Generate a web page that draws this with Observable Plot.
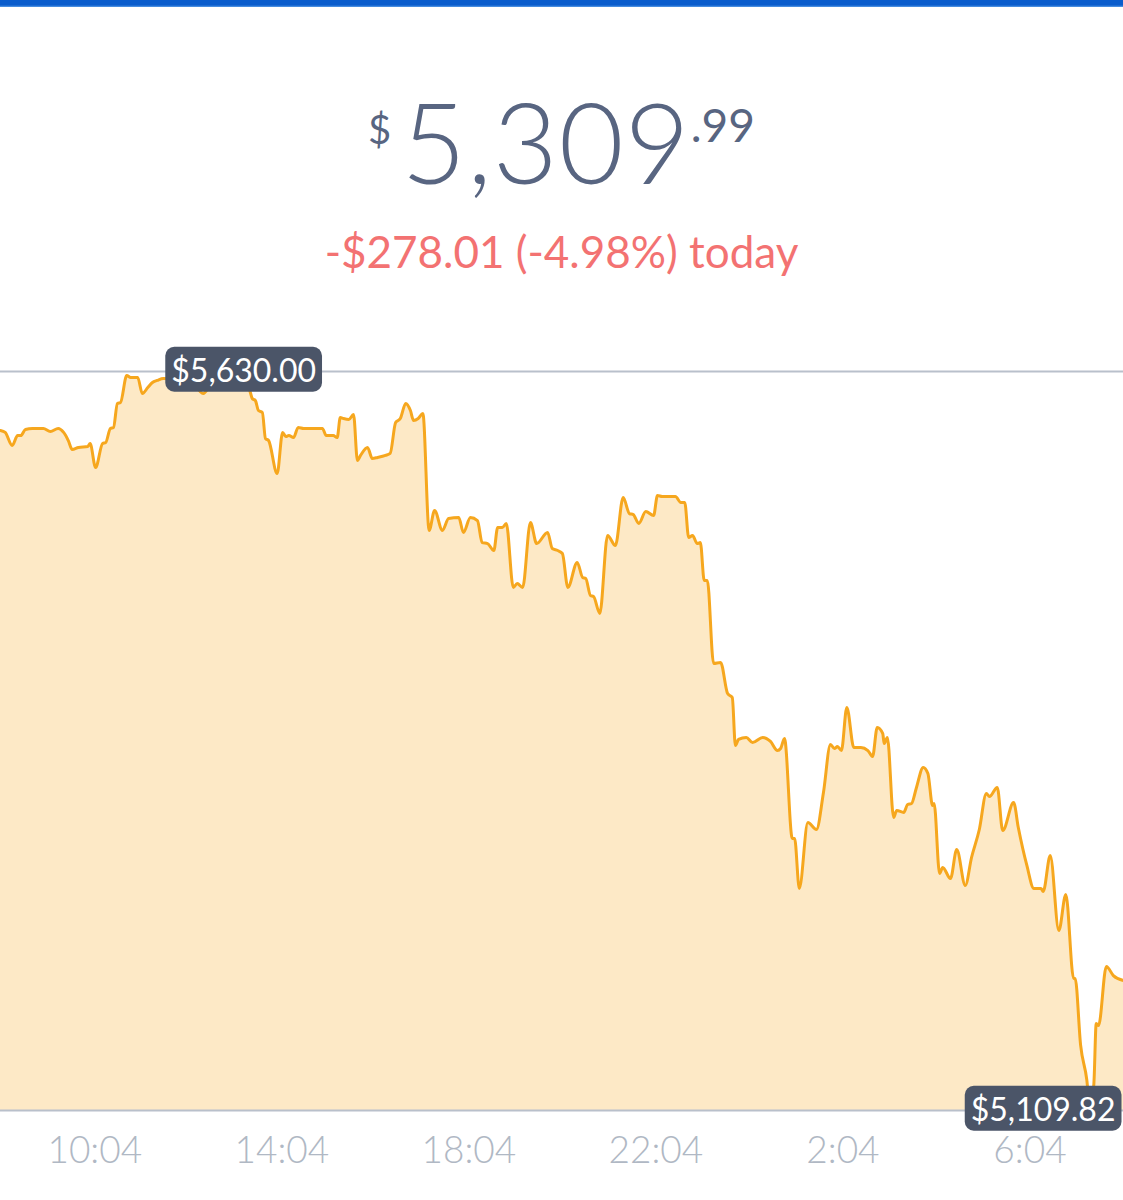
<!DOCTYPE html>
<html>
<head>
<meta charset="utf-8">
<script src="https://cdn.jsdelivr.net/npm/d3@7"></script>
<script src="https://cdn.jsdelivr.net/npm/@observablehq/plot@0.6"></script>
<style>
  html, body { margin: 0; padding: 0; background: #fff; width: 1123px; height: 1200px; overflow: hidden; }
  #bar { height: 7px; background: linear-gradient(#0a5ccc 0, #0a5ccc 5px, #5a9be6 7px); }
  #head { position: relative; height: 293px; font-family: Lato, "Open Sans", sans-serif; }
  #price { position: absolute; top: 78px; left: 0; width: 1123px; text-align: center; color: #586581; font-weight: 300; white-space: nowrap; }
  #price .cur { font-size: 40px; vertical-align: top; position: relative; top: 20px; margin-right: 10px; font-weight: 400; }
  #price .big { font-size: 112px; line-height: 1; letter-spacing: 1px; }
  #price .cents { font-size: 46px; vertical-align: top; position: relative; top: 12px; font-weight: 400; }
  #change { position: absolute; top: 222px; left: 0; width: 1123px; text-align: center; color: #f37272; font-size: 44px; font-weight: 400; line-height: 1; }
  #chart svg { display: block; }
</style>
</head>
<body>
<div id="bar"></div>
<div id="head">
  <div id="price"><span class="cur">$</span><span class="big">5,309</span><span class="cents">.99</span></div>
  <div id="change">-$278.01 (-4.98%) today</div>
</div>
<div id="chart"></div>
<script>
// ---- data ----
const startTime = "2018-11-19T08:03:00Z";
const endTime = "2018-11-20T08:04:00Z";
// minutes after startTime
const minutes = [
  0,6,15,22,26,32,41,55,64,74,
  81,87,92,100,112,115,122,131,135,141,
  145,150,154,162,167,176,182,189,195,201,
  209,244,260,272,295,312,318,321,323,327,
  331,336,340,344,355,362,366,370,376,382,
  389,402,413,418,427,432,436,440,447,453,
  458,462,471,477,484,494,500,507,513,520,
  526,530,536,542,550,557,567,575,588,594,
  603,612,618,625,633,638,644,649,658,663,
  670,680,688,702,708,715,721,728,740,747,
  751,757,761,769,779,789,799,807,812,819,
  828,838,843,849,866,873,878,883,888,894,
  898,903,907,915,924,933,939,943,947,957,
  965,978,988,997,1001,1006,1016,1019,1025,1036,
  1047,1056,1065,1070,1074,1079,1086,1095,1104,1113,
  1119,1125,1132,1134,1138,1146,1150,1159,1164,1169,
  1175,1184,1190,1196,1198,1205,1209,1219,1227,1238,
  1246,1256,1265,1269,1279,1286,1300,1306,1317,1326,
  1335,1338,1347,1358,1367,1377,1379,1386,1394,1398,
  1403,1406,1409,1419,1428,1441
];
const prices = [
  5588.5,5587.1,5577.9,5584.9,5584.9,5589.2,5589.9,5589.9,5587.8,5589.9,
  5587.1,5581.4,5575.1,5576.5,5577.2,5579.3,5562.4,5579.3,5580.0,5589.9,
  5590.6,5607.5,5608.2,5627.2,5625.8,5625.8,5614.5,5618.7,5622.3,5623.7,
  5625.1,5623.7,5614.5,5622.3,5625.1,5630.0,5620.1,5614.5,5611.0,5609.6,
  5602.5,5601.1,5582.8,5581.4,5558.2,5587.1,5584.2,5584.9,5583.5,5590.6,
  5589.9,5589.9,5589.9,5584.9,5584.9,5583.5,5597.6,5596.9,5596.2,5599.7,
  5567.4,5570.9,5576.5,5568.8,5569.5,5570.9,5572.3,5594.1,5596.9,5607.5,
  5602.5,5595.5,5596.9,5600.4,5518.1,5532.2,5518.1,5526.5,5527.2,5516.7,
  5527.2,5525.1,5509.6,5508.9,5504.0,5520.2,5520.2,5523.0,5478.0,5480.8,
  5478.0,5523.7,5508.9,5516.7,5505.4,5504.0,5501.9,5478.0,5495.6,5485.0,
  5484.3,5472.3,5471.6,5459.7,5514.6,5507.5,5541.3,5530.0,5529.3,5523.0,
  5531.5,5528.6,5542.7,5542.0,5542.0,5537.8,5537.8,5513.2,5514.6,5508.9,
  5509.6,5482.9,5482.9,5424.5,5425.2,5403.3,5400.5,5366.7,5371.0,5372.4,
  5368.9,5372.4,5369.6,5363.2,5364.6,5371.7,5301.3,5301.3,5266.1,5312.5,
  5307.6,5333.7,5367.4,5364.6,5366.0,5363.2,5393.5,5365.3,5365.3,5363.2,
  5359.0,5379.4,5375.2,5368.1,5372.4,5316.1,5321.0,5319.6,5325.2,5325.9,
  5336.5,5351.3,5347.0,5324.5,5325.9,5276.6,5280.9,5273.1,5293.5,5268.2,
  5287.9,5307.6,5333.0,5330.8,5337.2,5306.9,5326.6,5309.0,5282.3,5266.1,
  5266.1,5264.0,5289.3,5236.5,5261.9,5202.7,5202.7,5155.6,5131.0,5109.82,
  5128.8,5171.1,5169.6,5211.2,5204.8,5201.3
];
const tickTimes = ["2018-11-19T10:04:00Z","2018-11-19T14:04:00Z","2018-11-19T18:04:00Z","2018-11-19T22:04:00Z","2018-11-20T02:04:00Z","2018-11-20T06:04:00Z"];
const tickLabels = ["10:04","14:04","18:04","22:04","2:04","6:04"];
const maxPrice = 5630.00;
const minPrice = 5109.82;
const maxLabel = "$5,630.00";
const minLabel = "$5,109.82";

// ---- build table ----
const t0 = new Date(startTime).getTime();
const data = minutes.map((m, i) => ({time: new Date(t0 + m * 60000), price: prices[i]}));
const ticks = tickTimes.map(s => new Date(s));
const maxRow = data.find(d => d.price === maxPrice);
const endDate = new Date(endTime);

const chart = Plot.plot({
  width: 1123,
  height: 900,
  marginTop: 71,
  marginBottom: 90,
  marginLeft: 0,
  marginRight: 0,
  style: {fontFamily: "Lato, 'Open Sans', sans-serif", background: "transparent", overflow: "visible"},
  x: {type: "utc", domain: [new Date(startTime), endDate], axis: null},
  y: {domain: [minPrice, maxPrice], axis: null},
  marks: [
    Plot.areaY(data, {x: "time", y1: minPrice, y2: "price", fill: "#fde9c6", curve: "monotone-x"}),
    Plot.ruleY([maxPrice, minPrice], {stroke: "#b9c0cb", strokeWidth: 2}),
    Plot.lineY(data, {x: "time", y: "price", stroke: "#f6a71e", strokeWidth: 3, curve: "monotone-x"}),
    Plot.text(ticks, {x: d => d, text: (d, i) => tickLabels[i], frameAnchor: "bottom", lineAnchor: "top", dy: 26,
      fontSize: 37, fill: "#b0b8c4", fontWeight: 300}),
    Plot.text([maxRow], {x: "time", y: "price", text: () => maxLabel, fontSize: 32, fill: "#ffffff",
      textAnchor: "middle", ariaDescription: "badge"}),
    Plot.text([endDate], {x: d => d, y: () => minPrice, text: () => minLabel, fontSize: 32, fill: "#ffffff",
      textAnchor: "end", dx: -8, ariaDescription: "badge"})
  ]
});
document.getElementById("chart").appendChild(chart);

// rounded backgrounds behind the price badges
chart.querySelectorAll('g[aria-description="badge"] text').forEach(t => {
  const b = t.getBBox();
  const padX = 6, padY = 3;
  const r = document.createElementNS("http://www.w3.org/2000/svg", "rect");
  r.setAttribute("x", b.x - padX);
  r.setAttribute("y", b.y - padY);
  r.setAttribute("width", b.width + 2 * padX);
  r.setAttribute("height", b.height + 2 * padY);
  r.setAttribute("rx", 9);
  r.setAttribute("fill", "#4b5568");
  if (t.getAttribute("transform")) r.setAttribute("transform", t.getAttribute("transform"));
  t.parentNode.insertBefore(r, t);
});
</script>
</body>
</html>
